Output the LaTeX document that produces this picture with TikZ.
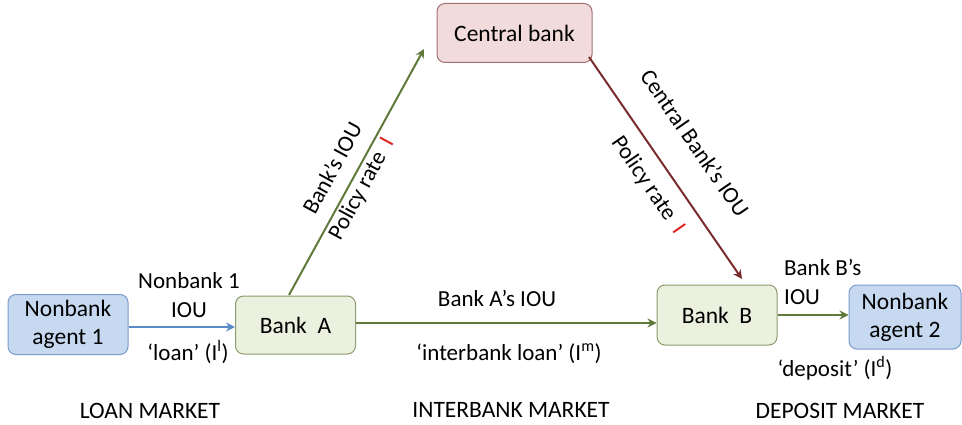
\documentclass[tikz,border=0pt]{standalone}
\usepackage{fontspec}
\setmainfont{Carlito}
\usetikzlibrary{arrows.meta}
\definecolor{bluefill}{HTML}{C6D9F1}
\definecolor{blueline}{HTML}{7A9CCB}
\definecolor{greenfill}{HTML}{EBF1DE}
\definecolor{greenline}{HTML}{8C9C6E}
\definecolor{redfill}{HTML}{F2DCDB}
\definecolor{redline}{HTML}{A07070}
\definecolor{arrgreen}{HTML}{5F7A3A}
\definecolor{arrred}{HTML}{7B2C2C}
\definecolor{arrblue}{HTML}{5B8CC8}
\definecolor{ratered}{HTML}{E0201C}
\tikzset{
  boxbase/.style={rounded corners=8pt, line width=1pt, minimum height=60pt, align=center, font=\fontsize{23.5}{28}\selectfont, inner sep=0pt},
  bluebox/.style={boxbase, fill=bluefill, draw=blueline},
  greenbox/.style={boxbase, fill=greenfill, draw=greenline},
  redbox/.style={boxbase, fill=redfill, draw=redline},
  conn/.style={line width=2pt, -{Stealth[length=9pt,width=9pt]}},
  lbl/.style={font=\fontsize{23}{28.5}\selectfont, align=center, inner sep=0pt},
  mkt/.style={font=\fontsize{23.5}{24}\selectfont, inner sep=0pt}
}
\begin{document}
\begin{tikzpicture}[x=1pt,y=-1pt]
\useasboundingbox (0,0) rectangle (962,425);
\node[bluebox, minimum width=120pt, minimum height=60pt] (n1) at (68,324.5) {Nonbank\\agent 1};
\node[greenbox, minimum width=120pt, minimum height=58pt] (ba) at (295.5,325) {Bank\ \ A};
\node[redbox, minimum width=155pt, minimum height=59pt] (cb) at (514.5,33) {Central bank};
\node[greenbox, minimum width=120pt, minimum height=60pt] (bb) at (717,315) {Bank\ \ B};
\node[bluebox, minimum width=112pt, minimum height=64pt] (n2) at (905,317) {Nonbank\\agent 2};

\coordinate (baTop) at (289,295);
\coordinate (cbIn) at (424,49);
\coordinate (cbOut) at (589,57);
\coordinate (bbIn) at (742,279);

\draw[conn, draw=arrblue, color=arrblue] (n1.east |- 0,327) -- (ba.west |- 0,327);
\draw[conn, draw=arrgreen, color=arrgreen] (baTop) -- (cbIn);
\draw[conn, draw=arrred, color=arrred] (cbOut) -- (bbIn);
\draw[conn, draw=arrgreen, color=arrgreen] (ba.east |- 0,323) -- (bb.west |- 0,323);
\draw[conn, draw=arrgreen, color=arrgreen] (bb.east |- 0,315) -- (n2.west |- 0,315);

\node[lbl] (l1) at (189,295) {Nonbank 1\\IOU};
\node[lbl] (l2) at (188,352) {‘loan’ (I\textsuperscript{l})};
\node[lbl, rotate=61.5] (l3) at (332,168) {Bank’s IOU};
\node[lbl, rotate=61.5] (l4) at (362,189) {Policy rate\ \ \textcolor{ratered}{I}};
\node[lbl, rotate=-55.4] (l5) at (695,143) {Central Bank’s IOU};
\node[lbl, rotate=-55.4] (l6) at (648,185) {Policy rate\ \ \textcolor{ratered}{I}};
\node[lbl] (l7) at (497,298) {Bank A’s IOU};
\node[lbl] (l8) at (509,354) {‘interbank loan’ (I\textsuperscript{m})};
\node[lbl, align=left, anchor=west] (l9) at (784,282) {Bank B’s\\IOU};
\node[lbl] (l10) at (835,368) {‘deposit’ (I\textsuperscript{d})};

\node[mkt] (m1) at (150,411) {LOAN MARKET};
\node[mkt] (m2) at (511,410) {INTERBANK MARKET};
\node[mkt] (m3) at (840,411) {DEPOSIT MARKET};
\end{tikzpicture}
\end{document}
